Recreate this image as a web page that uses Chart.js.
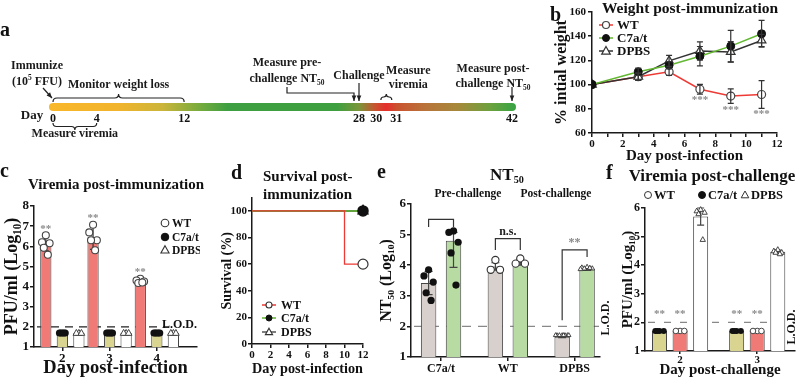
<!DOCTYPE html>
<html><head><meta charset="utf-8">
<script src="https://cdn.jsdelivr.net/npm/chart.js@4.4.1/dist/chart.umd.min.js"></script>
<style>
html,body{margin:0;padding:0;background:#fff;}
body{width:800px;height:379px;position:relative;overflow:hidden;font-family:'Liberation Serif','Times New Roman',serif;color:#111;}
canvas{position:absolute;display:block;}
.t{position:absolute;white-space:nowrap;font-weight:bold;line-height:1;}
.c{transform:translateX(-50%);}
sub{font-size:60%;vertical-align:-0.3em;line-height:0;}
</style></head><body>
<canvas id="ca" width="545" height="160" style="left:0;top:0"></canvas>
<canvas id="cb" width="252" height="165" style="left:548px;top:0"></canvas>
<canvas id="cc" width="200" height="189" style="left:0;top:190px"></canvas>
<canvas id="cd" width="165" height="189" style="left:205px;top:190px"></canvas>
<canvas id="ce" width="240" height="189" style="left:375px;top:190px"></canvas>
<canvas id="cf" width="188" height="199" style="left:612px;top:180px"></canvas>

<div class="t" style="left:0;top:19px;font-size:20px">a</div>
<div class="t" style="left:550px;top:4px;font-size:20px">b</div>
<div class="t" style="left:0;top:160px;font-size:20px">c</div>
<div class="t" style="left:231px;top:162px;font-size:20px">d</div>
<div class="t" style="left:377px;top:161px;font-size:20px">e</div>
<div class="t" style="left:606px;top:162px;font-size:20px">f</div>

<div class="t c" style="left:690px;top:0;font-size:15.5px">Weight post-immunization</div>
<div class="t c" style="left:116px;top:177px;font-size:15px">Viremia post-immunization</div>
<div class="t" style="left:263px;top:167px;font-size:15px;line-height:18px">Survival post-<br>immunization</div>
<div class="t c" style="left:507px;top:166px;font-size:17px">NT<sub>50</sub></div>
<div class="t c" style="left:468px;top:188px;font-size:11.5px">Pre-challenge</div>
<div class="t c" style="left:556px;top:188px;font-size:11.5px">Post-challenge</div>
<div class="t c" style="left:712px;top:167px;font-size:17px">Viremia post-challenge</div>

<script>
// ================= DATA =================
// Panel a: timeline (days)
const timelineDays = [0, 4, 12, 28, 30, 31, 42];
const timelineSpan = [0, 42];
const timelineColorDays = [0, 6, 10, 13.5, 16, 26, 28, 29.5, 30.5, 31.5, 34, 37, 40, 42];
const timelineColors = ['#f9b72a','#f1b42c','#cbb53a','#74ab3d','#3d9f41','#3e9f40','#7c963b','#c9522f','#e52f2d','#c9532f','#b9733a','#a6883a','#6ca13e','#3ea443'];

// Panel b: weight post-immunization
const weightDays = [0, 3, 5, 7, 9, 11];
const weightWT = [100, 106.5, 110.6, 96.2, 90.5, 91.8];
const weightWTErr = [0, 3, 3, 4, 6, 11.5];
const weightC7 = [100, 110.6, 116, 123.5, 131.8, 142];
const weightC7Err = [0, 3, 3, 8, 13, 11];
const weightDPBS = [100, 106.5, 119.6, 127.8, 127, 136.5];
const weightDPBSErr = [0, 3, 4.5, 7.5, 8.5, 5];
const weightStarIndex = [3, 4, 5];
const weightStarY = [87.5, 78.8, 75.5];

// Panel c: viremia post-immunization (log10 PFU/ml)
const viremiaDays = [2, 3, 4];
const viremiaWT = [6.15, 6.45, 4.25];
const viremiaWTErr = [0.38, 0.6, 0.08];
const viremiaWTPoints = [[6.55, 6.2, 6.15, 5.93, 5.58], [7.07, 6.69, 6.3, 6.3, 5.8], [4.39, 4.3, 4.25, 4.18, 4.2]];
const viremiaC7 = [1.7, 1.7, 1.7];
const viremiaC7Points = [[1.7, 1.7, 1.7, 1.7, 1.7], [1.7, 1.7, 1.7, 1.7, 1.7], [1.7, 1.7, 1.7, 1.7, 1.7]];
const viremiaDPBS = [1.7, 1.7, 1.7];
const viremiaDPBSPoints = [[1.7, 1.7, 1.7], [1.7, 1.7, 1.7], [1.7, 1.7, 1.7]];
const viremiaStarY = [6.87, 7.42, 4.72];
const viremiaLOD = 2;

// Panel d: survival (%)
const survivalDaysWT = [0, 10, 12];
const survivalWT = [100, 60, 60];
const survivalDays = [0, 12];
const survivalC7 = [100, 100];
const survivalDPBS = [100, 100];

// Panel e: NT50 (log10)
const ntGroups = ['C7a/t', 'WT', 'DPBS'];
const ntPre = [3.42, 3.96, 1.66];
const ntPreErr = [0.38, 0.12, 0.03];
const ntPrePoints = [[3.85, 3.65, 3.45, 3.1, 2.85], [4.17, 3.85, 3.85], [1.72, 1.72, 1.72, 1.72, 1.72, 1.72, 1.72, 1.72]];
const ntPost = [4.8, 4.1, 3.88];
const ntPostErrUp = [0.27, 0.1, 0.05];
const ntPostErrDown = [0.87, 0.1, 0.05];
const ntPostPoints = [[5.12, 5.07, 4.75, 4.4, 3.35], [4.22, 4.05, 4.05], [3.95, 3.93, 3.9, 3.9, 3.92, 3.88]];
const ntLOD = 2;

// Panel f: viremia post-challenge (log10 PFU/ml)
const challengeDays = [2, 3];
const challengeC7 = [1.7, 1.7];
const challengeC7Points = [[1.7, 1.7, 1.7, 1.7], [1.7, 1.7, 1.7, 1.7]];
const challengeWT = [1.7, 1.7];
const challengeWTPoints = [[1.7, 1.7, 1.7], [1.7, 1.7, 1.7]];
const challengeDPBS = [5.7, 4.47];
const challengeDPBSErr = [0.3, 0.06];
const challengeDPBSPoints = [[5.95, 5.9, 5.85, 5.8, 4.9], [4.55, 4.5, 4.45, 4.45, 4.4]];
const challengeStarY = 2.3;
const challengeLOD = 2;

// ================= STYLE / HELPERS =================
const FONT = "'Liberation Serif','Times New Roman','DejaVu Serif',serif";
Chart.defaults.font.family = FONT;
Chart.defaults.font.weight = 'bold';
Chart.defaults.font.size = 12;
Chart.defaults.color = '#111';
Chart.defaults.animation = false;
Chart.defaults.responsive = false;
Chart.defaults.plugins.legend.display = false;
Chart.defaults.plugins.tooltip.enabled = false;

const AX = '#1a1a1a';
const RED = '#f07a76', KHAKI = '#d9d48f', GRAY = '#d8d0cc', GREEN = '#b7dba2';
const JIT = [0, -0.75, 0.75, -0.4, 0.4, -0.95, 0.95, 0.2, -0.2];

function gridOpts(len) { return {display: true, drawOnChartArea: false, drawTicks: true, tickLength: len, color: AX, lineWidth: 1.5, offset: false}; }
const border = {display: true, color: AX, width: 1.5};
const valOf = d => (d && typeof d === 'object') ? d.y : d;

function drawMark(ctx, style, x, y, r, fill, stroke, lw) {
  ctx.save(); ctx.beginPath();
  if (style === 'triangle') {
    ctx.moveTo(x, y - r); ctx.lineTo(x + r * 0.95, y + r * 0.7); ctx.lineTo(x - r * 0.95, y + r * 0.7); ctx.closePath();
  } else ctx.arc(x, y, r, 0, Math.PI * 2);
  ctx.fillStyle = fill; ctx.fill();
  if (lw) { ctx.lineWidth = lw; ctx.strokeStyle = stroke; ctx.stroke(); }
  ctx.restore();
}
function rich(ctx, parts, x, y, size, align) {
  const segs = parts.map(p => typeof p === 'string' ? {t: p} : p);
  const fontFor = s => 'bold ' + (s.sub || s.sup ? size * 0.62 : size) + 'px ' + FONT;
  let w = 0; segs.forEach(s => { ctx.font = fontFor(s); s.w = ctx.measureText(s.t).width; w += s.w; });
  let cx = align === 'left' ? x : (align === 'right' ? x - w : x - w / 2);
  ctx.textAlign = 'left'; ctx.textBaseline = 'middle';
  segs.forEach(s => { ctx.font = fontFor(s); ctx.fillText(s.t, cx, y + (s.sub ? size * 0.32 : s.sup ? -size * 0.35 : 0)); cx += s.w; });
}

// generic extras: error bars, dots, stars, brackets, dashed lines, labels, legends
const extras = {
  id: 'extras',
  beforeDatasetsDraw(chart, a, o) {
    if (!o || !o.hlines) return;
    const {ctx, chartArea: ca} = chart; const ys = chart.scales.y;
    o.hlines.forEach(h => {
      const y = ys.getPixelForValue(h.value);
      ctx.save(); ctx.setLineDash(h.dash); ctx.strokeStyle = h.color; ctx.lineWidth = h.width || 1.3;
      ctx.beginPath(); ctx.moveTo(ca.left + 3, y); ctx.lineTo(ca.right - (h.endGap || 0), y); ctx.stroke(); ctx.restore();
    });
  },
  afterDatasetsDraw(chart, a, o) {
    if (!o) return;
    const {ctx} = chart; const ys = chart.scales.y;
    (o.errors || []).forEach(e => {
      const meta = chart.getDatasetMeta(e.ds); const data = chart.data.datasets[e.ds].data;
      meta.data.forEach((el, j) => {
        const up = e.up[j], dn = (e.down || e.up)[j];
        if (!up && !dn) return;
        const v = valOf(data[j]);
        const y1 = ys.getPixelForValue(v + up), y2 = ys.getPixelForValue(v - dn);
        ctx.save(); ctx.strokeStyle = e.color || '#333'; ctx.lineWidth = e.width || 1.2; ctx.beginPath();
        ctx.moveTo(el.x, y1); ctx.lineTo(el.x, y2);
        ctx.moveTo(el.x - e.cap, y1); ctx.lineTo(el.x + e.cap, y1);
        ctx.moveTo(el.x - e.cap, y2); ctx.lineTo(el.x + e.cap, y2);
        ctx.stroke(); ctx.restore();
      });
    });
    (o.points || []).forEach(p => {
      const meta = chart.getDatasetMeta(p.ds);
      meta.data.forEach((el, j) => {
        const vals = p.values[j] || []; const half = (el.width || 10) / 2 * (p.jitter || 0.8);
        vals.forEach((v, k) => {
          const off = vals.length > 1 ? JIT[k % JIT.length] * half : 0;
          drawMark(ctx, p.style, el.x + off, ys.getPixelForValue(v), p.r, p.fill, p.stroke, p.lw);
        });
      });
    });
    (o.stars || []).forEach(s => {
      const meta = chart.getDatasetMeta(s.ds);
      s.index.forEach((idx, k) => {
        const el = meta.data[idx]; if (!el) return;
        const yv = Array.isArray(s.y) ? s.y[k] : s.y;
        ctx.save(); ctx.fillStyle = s.color || '#8a8a8a'; ctx.font = 'bold ' + (s.size || 11) + 'px ' + FONT;
        ctx.textAlign = 'center'; ctx.textBaseline = 'middle';
        ctx.fillText(s.text, el.x, ys.getPixelForValue(yv)); ctx.restore();
      });
    });
    (o.brackets || []).forEach(b => {
      const xa = chart.getDatasetMeta(b.a[0]).data[b.a[1]].x, xb = chart.getDatasetMeta(b.b[0]).data[b.b[1]].x;
      const yt = ys.getPixelForValue(b.top);
      ctx.save(); ctx.strokeStyle = '#333'; ctx.lineWidth = 1.2; ctx.beginPath();
      ctx.moveTo(xa, ys.getPixelForValue(b.endA)); ctx.lineTo(xa, yt); ctx.lineTo(xb, yt); ctx.lineTo(xb, ys.getPixelForValue(b.endB));
      ctx.stroke();
      if (b.label) {
        ctx.fillStyle = b.color || '#222'; ctx.font = 'bold ' + (b.size || 12) + 'px ' + FONT;
        ctx.textAlign = 'center'; ctx.textBaseline = 'bottom';
        ctx.fillText(b.label, (xa + xb) / 2, yt - 1);
      }
      ctx.restore();
    });
  },
  afterDraw(chart, a, o) {
    if (!o) return;
    const {ctx, chartArea: ca} = chart; const ys = chart.scales.y;
    (o.labels || []).forEach(l => {
      ctx.save(); ctx.fillStyle = l.color || '#111'; ctx.font = 'bold ' + l.size + 'px ' + FONT;
      ctx.textBaseline = 'middle';
      const y = l.value != null ? ys.getPixelForValue(l.value) : l.y;
      const x = l.x === 'right' ? ca.right : l.x;
      if (l.rot) { ctx.translate(x, y); ctx.rotate(-Math.PI / 2); ctx.textAlign = 'center'; ctx.fillText(l.text, 0, 0); }
      else { ctx.textAlign = l.align || 'left'; ctx.fillText(l.text, x, y); }
      ctx.restore();
    });
    if (o.legend) {
      o.legend.items.forEach(it => {
        ctx.save();
        if (it.line) { ctx.strokeStyle = it.line; ctx.lineWidth = 1.5; ctx.beginPath(); ctx.moveTo(it.x - 7, it.y); ctx.lineTo(it.x + 7, it.y); ctx.stroke(); }
        drawMark(ctx, it.style, it.x, it.y, it.r, it.fill, it.stroke, it.lw);
        ctx.fillStyle = '#111'; ctx.font = 'bold ' + o.legend.size + 'px ' + FONT; ctx.textAlign = 'left'; ctx.textBaseline = 'middle';
        ctx.fillText(it.text, it.x + (o.legend.gap || 10), it.y + 1);
        ctx.restore();
      });
    }
  }
};
Chart.register(extras);

// ================= PANEL A: timeline =================
function brace(ctx, x1, x2, y, h, d) {
  const r = h / 2, xm = (x1 + x2) / 2, rr = Math.min(r, (x2 - x1) / 4);
  ctx.beginPath();
  ctx.moveTo(x1, y);
  ctx.quadraticCurveTo(x1, y + d * r, x1 + rr, y + d * r);
  ctx.lineTo(xm - rr, y + d * r);
  ctx.quadraticCurveTo(xm, y + d * r, xm, y + 2 * d * r);
  ctx.quadraticCurveTo(xm, y + d * r, xm + rr, y + d * r);
  ctx.lineTo(x2 - rr, y + d * r);
  ctx.quadraticCurveTo(x2, y + d * r, x2, y);
  ctx.stroke();
}
const timelineNotes = {
  braces: [{from: 0, to: 12, dy: -5, h: 8, dir: -1}, {from: 0, to: 4, dy: 16, h: 7, dir: 1}, {from: 30, to: 31, dy: -7, h: 6, dir: -1}],
  arrows: [
    {day: 0, pts: [[-10, -19], [-1, -9]]},
    {day: 28, pts: [[-72, -20], [-72, -14], [-5, -14], [-5, -6]]},
    {day: 28, pts: [[0, -24], [0, -6]]},
    {day: 42, pts: [[0, -20], [0, -6]]}
  ],
  texts: [
    {day: 0, dx: -16, dy: -41, parts: ['Immunize']},
    {day: 0, dx: -16, dy: -25, parts: ['(10', {t: '5', sup: true}, ' FFU)']},
    {day: 6, dx: 0, dy: -22, parts: ['Monitor weight loss']},
    {day: 0, dx: -21, dy: 9, parts: ['Day'], size: 13},
    {day: 2, dx: 0, dy: 27, parts: ['Measure viremia']},
    {day: 28, dx: -72, dy: -44, parts: ['Measure pre-']},
    {day: 28, dx: -72, dy: -28, parts: ['challenge NT', {t: '50', sub: true}]},
    {day: 28, dx: 0, dy: -31, parts: ['Challenge']},
    {day: 30.5, dx: 22, dy: -36, parts: ['Measure']},
    {day: 30.5, dx: 22, dy: -22, parts: ['viremia']},
    {day: 42, dx: -19, dy: -38, parts: ['Measure post-']},
    {day: 42, dx: -19, dy: -23, parts: ['challenge NT', {t: '50', sub: true}]}
  ]
};
const timelinePlugin = {
  id: 'timeline',
  afterDatasetsDraw(chart) {
    const {ctx} = chart; const xs = chart.scales.x; const yb = chart.scales.y.getPixelForValue(0);
    const px = d => xs.getPixelForValue(d);
    ctx.save(); ctx.strokeStyle = '#222'; ctx.fillStyle = '#222'; ctx.lineWidth = 1.2;
    timelineNotes.braces.forEach(b => brace(ctx, px(b.from), px(b.to), yb + b.dy, b.h, b.dir));
    timelineNotes.arrows.forEach(ar => {
      const x0 = px(ar.day); const P = ar.pts.map(p => [x0 + p[0], yb + p[1]]);
      ctx.beginPath(); ctx.moveTo(P[0][0], P[0][1]); P.slice(1).forEach(p => ctx.lineTo(p[0], p[1])); ctx.stroke();
      const [ax, ay] = P[P.length - 1], [bx, by] = P[P.length - 2];
      const ang = Math.atan2(ay - by, ax - bx);
      ctx.beginPath(); ctx.moveTo(ax, ay);
      ctx.lineTo(ax - 6 * Math.cos(ang - 0.4), ay - 6 * Math.sin(ang - 0.4));
      ctx.lineTo(ax - 6 * Math.cos(ang + 0.4), ay - 6 * Math.sin(ang + 0.4));
      ctx.closePath(); ctx.fill();
    });
    ctx.fillStyle = '#1a1a1a';
    timelineNotes.texts.forEach(t => rich(ctx, t.parts, px(t.day) + t.dx, yb + t.dy, t.size || 12, 'center'));
    ctx.restore();
  }
};
new Chart(document.getElementById('ca'), {
  type: 'line',
  data: {datasets: [{
    data: timelineSpan.map(d => ({x: d, y: 0})),
    borderWidth: 8, borderCapStyle: 'round', pointRadius: 0, clip: false,
    borderColor: (c) => {
      const ch = c.chart; if (!ch.chartArea || !ch.scales.x) return '#3d9f41';
      const xs = ch.scales.x; const x0 = xs.getPixelForValue(timelineSpan[0]), x1 = xs.getPixelForValue(timelineSpan[1]);
      const g = ch.ctx.createLinearGradient(x0, 0, x1, 0);
      timelineColorDays.forEach((d, i) => g.addColorStop((xs.getPixelForValue(d) - x0) / (x1 - x0), timelineColors[i]));
      return g;
    }
  }]},
  options: {
    layout: {padding: {left: 53, right: 33, top: 103, bottom: 29}},
    scales: {
      x: {type: 'linear', min: 0, max: 42, afterBuildTicks: s => { s.ticks = timelineDays.map(v => ({value: v})); },
          afterFit: s => { s.height = 20; },
          ticks: {autoSkip: false, maxRotation: 0, padding: 1, font: {size: 12},
                  callback: v => v === 30 ? '30   ' : (v === 31 ? '   31' : String(v))},
          grid: {display: false, drawTicks: false}, border: {display: false}},
      y: {display: false, min: -1, max: 1}
    }
  },
  plugins: [timelinePlugin]
});

// ================= PANEL B: weight =================
new Chart(document.getElementById('cb'), {
  type: 'line',
  data: {datasets: [
    {label: 'C7a/t', data: weightDays.map((d, i) => ({x: d, y: weightC7[i]})), borderColor: '#63b832', borderWidth: 1.5,
     pointStyle: 'circle', pointRadius: 4, pointBackgroundColor: '#111', pointBorderColor: '#111', pointBorderWidth: 1},
    {label: 'DPBS', data: weightDays.map((d, i) => ({x: d, y: weightDPBS[i]})), borderColor: '#333', borderWidth: 1.5,
     pointStyle: 'triangle', pointRadius: 5, pointBackgroundColor: '#fff', pointBorderColor: '#333', pointBorderWidth: 1.2},
    {label: 'WT', data: weightDays.map((d, i) => ({x: d, y: weightWT[i]})), borderColor: '#ee3a35', borderWidth: 1.5,
     pointStyle: 'circle', pointRadius: 4, pointBackgroundColor: '#fff', pointBorderColor: '#444', pointBorderWidth: 1.2}
  ]},
  options: {
    layout: {padding: {top: 12, right: 23, left: 0, bottom: 0}},
    scales: {
      x: {type: 'linear', min: 0, max: 12, afterFit: s => { s.height = 32; },
          ticks: {stepSize: 1, autoSkip: false, maxRotation: 0, padding: 1, font: {size: 11}, callback: v => v % 2 === 0 ? v : ''},
          grid: gridOpts(4), border,
          title: {display: true, text: 'Day post-infection', font: {size: 15}, padding: {top: 0, bottom: 0}}},
      y: {min: 60, max: 160, afterFit: s => { s.width = 44; },
          ticks: {stepSize: 20, padding: 2, font: {size: 11}}, grid: gridOpts(4), border,
          title: {display: true, text: '% intial weight', font: {size: 16}, padding: {top: 4, bottom: 0}}}
    },
    plugins: {extras: {
      errors: [{ds: 0, up: weightC7Err, cap: 3}, {ds: 1, up: weightDPBSErr, cap: 3}, {ds: 2, up: weightWTErr, cap: 3}],
      stars: [{ds: 2, index: weightStarIndex, y: weightStarY, text: '***', size: 11}],
      legend: {size: 13, gap: 11, items: [
        {x: 58, y: 25, text: 'WT', line: '#ee3a35', style: 'circle', r: 3.5, fill: '#fff', stroke: '#444', lw: 1.2},
        {x: 58, y: 38, text: 'C7a/t', line: '#63b832', style: 'circle', r: 3.5, fill: '#111', stroke: '#111', lw: 1},
        {x: 58, y: 51, text: 'DPBS', line: '#333', style: 'triangle', r: 4.5, fill: '#fff', stroke: '#333', lw: 1.2}
      ]}
    }}
  }
});

// ================= PANEL C: viremia post-immunization =================
const barC = {categoryPercentage: 1.05, barPercentage: 0.68, borderWidth: 1, borderColor: '#444', borderSkipped: 'start'};
new Chart(document.getElementById('cc'), {
  type: 'bar',
  data: {datasets: [
    Object.assign({label: 'WT', data: viremiaDays.map((d, i) => ({x: d, y: viremiaWT[i]})), backgroundColor: RED}, barC),
    Object.assign({label: 'C7a/t', data: viremiaDays.map((d, i) => ({x: d, y: viremiaC7[i]})), backgroundColor: KHAKI}, barC),
    Object.assign({label: 'DPBS', data: viremiaDays.map((d, i) => ({x: d, y: viremiaDPBS[i]})), backgroundColor: '#fff'}, barC)
  ]},
  options: {
    layout: {padding: {top: 16, right: 3, left: 0, bottom: 0}},
    scales: {
      x: {type: 'linear', min: 1.4, max: 4.85, offset: false,
          afterBuildTicks: s => { s.ticks = viremiaDays.map(v => ({value: v})); }, afterFit: s => { s.height = 32; },
          ticks: {autoSkip: false, maxRotation: 0, padding: 0, font: {size: 13}}, grid: gridOpts(4), border,
          title: {display: true, text: 'Day post-infection', font: {size: 18.5}, padding: {top: 0, bottom: 0}}},
      y: {min: 1, max: 8, afterFit: s => { s.width = 34; },
          ticks: {stepSize: 1, padding: 1, font: {size: 13}}, grid: gridOpts(4), border,
          title: {display: true, text: 'PFU/ml (Log₁₀)', font: {size: 18}, padding: {top: 2, bottom: 0}}}
    },
    plugins: {extras: {
      hlines: [{value: viremiaLOD, dash: [8, 6], color: '#222', width: 1.3, endGap: 28}],
      errors: [{ds: 0, up: viremiaWTErr, cap: 3, color: '#333'}],
      points: [
        {ds: 0, values: viremiaWTPoints, style: 'circle', r: 3.5, fill: '#fff', stroke: '#444', lw: 1.1, jitter: 0.9},
        {ds: 1, values: viremiaC7Points, style: 'circle', r: 3.5, fill: '#111', stroke: '#111', lw: 0, jitter: 0.7},
        {ds: 2, values: viremiaDPBSPoints, style: 'triangle', r: 3.5, fill: '#fff', stroke: '#444', lw: 1, jitter: 0.6}
      ],
      stars: [{ds: 0, index: [0, 1, 2], y: viremiaStarY, text: '**', size: 11}],
      labels: [{text: 'L.O.D.', x: 'right', value: viremiaLOD + 0.1, size: 12, align: 'right'}],
      legend: {size: 11.5, gap: 7, items: [
        {x: 165, y: 33, text: 'WT', style: 'circle', r: 3.8, fill: '#fff', stroke: '#333', lw: 1.1},
        {x: 165, y: 47, text: 'C7a/t', style: 'circle', r: 3.8, fill: '#111', stroke: '#111', lw: 1},
        {x: 165, y: 60, text: 'DPBS', style: 'triangle', r: 4.3, fill: '#fff', stroke: '#333', lw: 1.1}
      ]}
    }}
  }
});

// ================= PANEL D: survival =================
new Chart(document.getElementById('cd'), {
  type: 'line',
  data: {datasets: [
    {label: 'WT', data: survivalDaysWT.map((d, i) => ({x: d, y: survivalWT[i]})), stepped: 'before', borderColor: '#ee3a35', borderWidth: 1.3,
     pointRadius: [0, 0, 5], pointStyle: 'circle', pointBackgroundColor: '#fff', pointBorderColor: '#333', pointBorderWidth: 1.2, clip: false},
    {label: 'C7a/t', data: survivalDays.map((d, i) => ({x: d, y: survivalC7[i]})), borderColor: '#63b832', borderWidth: 1.5,
     pointRadius: [0, 5], pointStyle: 'circle', pointBackgroundColor: '#111', pointBorderColor: '#111', clip: false},
    {label: 'DPBS', data: survivalDays.map((d, i) => ({x: d, y: survivalDPBS[i]})), borderColor: '#333', borderWidth: 1.5,
     pointRadius: [0, 5.5], pointStyle: 'triangle', pointBackgroundColor: '#111', pointBorderColor: '#111', clip: false}
  ]},
  options: {
    layout: {padding: {top: 7, right: 7, left: 0, bottom: 0}},
    scales: {
      x: {type: 'linear', min: 0, max: 12, afterFit: s => { s.height = 35; },
          ticks: {stepSize: 2, autoSkip: false, maxRotation: 0, padding: 1, font: {size: 11}}, grid: gridOpts(4), border,
          title: {display: true, text: 'Day post-infection', font: {size: 15}, padding: {top: 0, bottom: 1}}},
      y: {min: 0, max: 110, afterFit: s => { s.width = 47; },
          afterBuildTicks: s => { s.ticks = s.ticks.filter(t => t.value % 20 === 0); },
          ticks: {stepSize: 20, padding: 1, font: {size: 11}}, grid: gridOpts(4), border,
          title: {display: true, text: 'Survival (%)', font: {size: 14}, padding: {top: 14, bottom: 0}}}
    },
    plugins: {extras: {
      legend: {size: 12, gap: 12, items: [
        {x: 64, y: 115, text: 'WT', line: '#ee3a35', style: 'circle', r: 3, fill: '#fff', stroke: '#333', lw: 1.1},
        {x: 64, y: 128, text: 'C7a/t', line: '#63b832', style: 'circle', r: 3, fill: '#111', stroke: '#111', lw: 1},
        {x: 64, y: 142, text: 'DPBS', line: '#555', style: 'triangle', r: 3.8, fill: '#fff', stroke: '#333', lw: 1.1}
      ]}
    }}
  }
});

// ================= PANEL E: NT50 =================
const barE = {categoryPercentage: 0.746, barPercentage: 0.62, borderWidth: 1, borderColor: '#444', borderSkipped: 'start'};
new Chart(document.getElementById('ce'), {
  type: 'bar',
  data: {datasets: [
    Object.assign({label: 'Pre-challenge', data: ntGroups.map((g, i) => ({x: i, y: ntPre[i]})), backgroundColor: GRAY}, barE),
    Object.assign({label: 'Post-challenge', data: ntGroups.map((g, i) => ({x: i, y: ntPost[i]})), backgroundColor: GREEN}, barE)
  ]},
  options: {
    layout: {padding: {top: 14, right: 15, left: 0, bottom: 0}},
    scales: {
      x: {type: 'linear', min: -0.45, max: 2.38, offset: false,
          afterBuildTicks: s => { s.ticks = ntGroups.map((g, i) => ({value: i})); }, afterFit: s => { s.height = 22; },
          ticks: {autoSkip: false, maxRotation: 0, padding: 1, font: {size: 12}, callback: v => ntGroups[v]}, grid: gridOpts(4), border},
      y: {min: 1, max: 6, afterFit: s => { s.width = 36; },
          ticks: {stepSize: 1, padding: 1, font: {size: 13}}, grid: gridOpts(4), border,
          title: {display: true, text: 'NT₅₀ (Log₁₀)', font: {size: 16}, padding: {top: 2, bottom: 0}}}
    },
    plugins: {extras: {
      hlines: [{value: ntLOD, dash: [9, 7], color: '#888', width: 1.3}],
      errors: [{ds: 0, up: ntPreErr, cap: 4, color: '#444'}, {ds: 1, up: ntPostErrUp, down: ntPostErrDown, cap: 4, color: '#444'}],
      points: [
        {ds: 0, values: ntPrePoints.slice(0, 1), style: 'circle', r: 3.6, fill: '#111', stroke: '#111', lw: 0, jitter: 0.8},
        {ds: 1, values: ntPostPoints.slice(0, 1), style: 'circle', r: 3.6, fill: '#111', stroke: '#111', lw: 0, jitter: 0.8},
        {ds: 0, values: [[], ntPrePoints[1], []], style: 'circle', r: 3.6, fill: '#fff', stroke: '#333', lw: 1.1, jitter: 0.8},
        {ds: 1, values: [[], ntPostPoints[1], []], style: 'circle', r: 3.6, fill: '#fff', stroke: '#333', lw: 1.1, jitter: 0.8},
        {ds: 0, values: [[], [], ntPrePoints[2]], style: 'triangle', r: 2.3, fill: '#fff', stroke: '#333', lw: 0.9, jitter: 0.9},
        {ds: 1, values: [[], [], ntPostPoints[2]], style: 'triangle', r: 2.5, fill: '#fff', stroke: '#333', lw: 0.9, jitter: 0.9}
      ],
      brackets: [
        {a: [0, 0], b: [1, 0], top: 5.5, endA: 5.25, endB: 5.25, label: ''},
        {a: [0, 1], b: [1, 1], top: 4.87, endA: 4.5, endB: 4.5, label: 'n.s.', size: 12},
        {a: [0, 2], b: [1, 2], top: 4.5, endA: 2.2, endB: 4.27, label: '**', color: '#888', size: 12}
      ],
      labels: [{text: 'L.O.D.', x: 231, y: 128, rot: true, size: 12}]
    }}
  }
});

// ================= PANEL F: viremia post-challenge =================
const barF = {categoryPercentage: 0.8, barPercentage: 0.73, borderWidth: 1, borderColor: '#444', borderSkipped: 'start'};
new Chart(document.getElementById('cf'), {
  type: 'bar',
  data: {datasets: [
    Object.assign({label: 'C7a/t', data: challengeDays.map((d, i) => ({x: d, y: challengeC7[i]})), backgroundColor: KHAKI}, barF),
    Object.assign({label: 'WT', data: challengeDays.map((d, i) => ({x: d, y: challengeWT[i]})), backgroundColor: RED}, barF),
    Object.assign({label: 'DPBS', data: challengeDays.map((d, i) => ({x: d, y: challengeDPBS[i]})), backgroundColor: '#fff'}, barF)
  ]},
  options: {
    layout: {padding: {top: 28, right: 5, left: 0, bottom: 0}},
    scales: {
      x: {type: 'linear', min: 1.545, max: 3.49, offset: false,
          afterBuildTicks: s => { s.ticks = challengeDays.map(v => ({value: v})); }, afterFit: s => { s.height = 28; },
          ticks: {autoSkip: false, maxRotation: 0, padding: 0, font: {size: 11}}, grid: gridOpts(3), border,
          title: {display: true, text: 'Day post-challenge', font: {size: 15}, padding: {top: 0, bottom: 0}}},
      y: {min: 1, max: 6, afterFit: s => { s.width = 33; },
          ticks: {stepSize: 1, padding: 1, font: {size: 12}}, grid: gridOpts(4), border,
          title: {display: true, text: 'PFU/ml (Log₁₀)', font: {size: 15}, padding: {top: 7, bottom: 0}}}
    },
    plugins: {extras: {
      hlines: [{value: challengeLOD, dash: [7, 9], color: '#888', width: 1.3}],
      errors: [{ds: 2, up: challengeDPBSErr, cap: 3.5, color: '#444'}],
      points: [
        {ds: 0, values: challengeC7Points, style: 'circle', r: 3, fill: '#111', stroke: '#111', lw: 0, jitter: 0.75},
        {ds: 1, values: challengeWTPoints, style: 'circle', r: 2.8, fill: '#fff', stroke: '#444', lw: 1, jitter: 0.75},
        {ds: 2, values: challengeDPBSPoints, style: 'triangle', r: 2.8, fill: '#fff', stroke: '#333', lw: 0.9, jitter: 0.7}
      ],
      stars: [{ds: 0, index: [0, 1], y: challengeStarY, text: '**', size: 11}, {ds: 1, index: [0, 1], y: challengeStarY, text: '**', size: 11}],
      labels: [{text: 'L.O.D.', x: 180, y: 147, rot: true, size: 12}],
      legend: {size: 12.5, gap: 6, items: [
        {x: 36, y: 15, text: 'WT', style: 'circle', r: 3.5, fill: '#fff', stroke: '#333', lw: 1},
        {x: 90, y: 15, text: 'C7a/t', style: 'circle', r: 3.5, fill: '#111', stroke: '#111', lw: 1},
        {x: 133, y: 15, text: 'DPBS', style: 'triangle', r: 4, fill: '#fff', stroke: '#333', lw: 1}
      ]}
    }}
  }
});
</script>
</body></html>
